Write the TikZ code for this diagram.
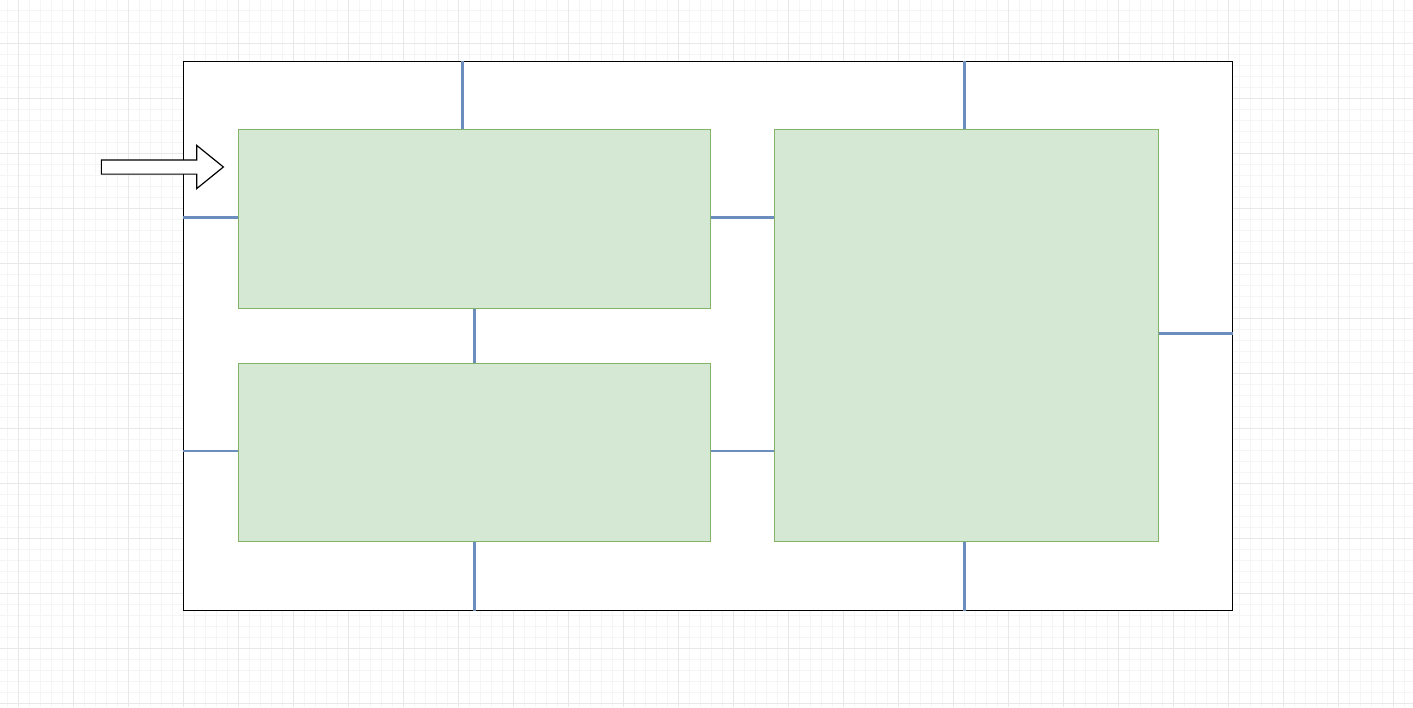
\documentclass[tikz,border=0pt]{standalone}
\usetikzlibrary{shapes.arrows}
\definecolor{boxfill}{HTML}{D5E8D4}
\definecolor{boxline}{HTML}{82B366}
\definecolor{linkblue}{HTML}{6C8EBF}
\begin{document}
\begin{tikzpicture}[x=1pt,y=-1pt,
    box/.style={draw=boxline,fill=boxfill,line width=1.2pt,inner sep=0pt,anchor=north west},
    link/.style={draw=linkblue,line width=2.5pt},
    minorline/.style={draw=black!4,line width=0.6pt},
    majorline/.style={draw=black!9,line width=1pt}]
  \useasboundingbox (0,0) rectangle (1413,707);
  \fill[white] (0,0) rectangle (1413,707);
  \foreach \gx in {7,18,...,1412} \draw[minorline] (\gx,0) -- (\gx,707);
  \foreach \gy in {10,21,...,706} \draw[minorline] (0,\gy) -- (1413,\gy);
  \foreach \gx in {18,73,...,1412} \draw[majorline] (\gx,0) -- (\gx,707);
  \foreach \gy in {43,98,...,706} \draw[majorline] (0,\gy) -- (1413,\gy);

  \node[draw=black,fill=white,line width=1.4pt,inner sep=0pt,anchor=north west,
        minimum width=1049pt,minimum height=549pt] (frame) at (183,61) {};
  \node[box,minimum width=472pt,minimum height=179pt] (upper) at (238,129) {};
  \node[box,minimum width=472pt,minimum height=178pt] (lower) at (238,363) {};
  \node[box,minimum width=384pt,minimum height=412pt] (right) at (774,129) {};
  \node[single arrow,draw=black,fill=white,line width=1.2pt,inner xsep=0pt,inner ysep=6.5pt,
        minimum height=122pt,single arrow head extend=14.5pt,single arrow tip angle=78] (inlet) at (158,167) {};

  \coordinate (utop) at ([xshift=-12pt]upper.north);
  \coordinate (uside) at ([yshift=1.5pt]upper.west);
  \coordinate (umid) at ([yshift=1.5pt]upper.east);
  \coordinate (lside) at ([yshift=1.5pt]lower.west);
  \coordinate (lmid) at ([yshift=1.5pt]lower.east);
  \coordinate (rtop) at ([xshift=-2pt]right.north);
  \coordinate (rside) at ([yshift=2pt]right.east);
  \coordinate (rbot) at ([xshift=-2pt]right.south);
  \draw[link] (utop) -- (utop |- frame.north);
  \draw[link] (uside) -- (uside -| frame.west);
  \draw[link] (umid) -- (umid -| right.west);
  \draw[link] (upper.south) -- (lower.north);
  \draw[link] (lside) -- (lside -| frame.west);
  \draw[link] (lmid) -- (lmid -| right.west);
  \draw[link] (lower.south) -- (lower.south |- frame.south);
  \draw[link] (rtop) -- (rtop |- frame.north);
  \draw[link] (rside) -- (rside -| frame.east);
  \draw[link] (rbot) -- (rbot |- frame.south);
\end{tikzpicture}
\end{document}
